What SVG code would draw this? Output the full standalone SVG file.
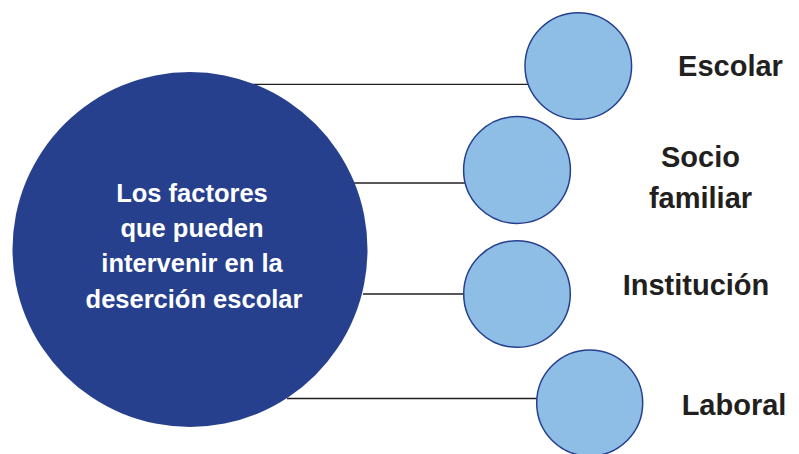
<svg xmlns="http://www.w3.org/2000/svg" width="799" height="454" viewBox="0 0 799 454">
<style>
.small{fill:#8ebde6;stroke:#26408e;stroke-width:1.5}
.lbl{font-family:"Liberation Sans",Arial,sans-serif;font-weight:bold;font-size:29px;fill:#231f20;text-anchor:middle}
.ctr{font-family:"Liberation Sans",Arial,sans-serif;font-weight:bold;font-size:25.5px;fill:#ffffff;text-anchor:middle}
.conn{stroke:#231f20;stroke-width:1.3;fill:none}
</style>
<rect width="799" height="454" fill="#ffffff"/>
<g id="connectors">
<line class="conn" x1="253" y1="84.3" x2="528" y2="84.3"/>
<line class="conn" x1="348" y1="183" x2="465" y2="183"/>
<line class="conn" x1="363" y1="294" x2="465" y2="294"/>
<line class="conn" x1="287" y1="398.5" x2="538" y2="398.5"/>
</g>
<g id="main">
<circle cx="190" cy="249.5" r="177.5" fill="#27408d"/>
<text class="ctr" x="192" y="201.5">Los factores</text>
<text class="ctr" x="192" y="237">que pueden</text>
<text class="ctr" x="192" y="272">intervenir en la</text>
<text class="ctr" x="194" y="307.5">deserción escolar</text>
</g>
<g id="escolar">
<circle class="small" cx="578.3" cy="66" r="53.3"/>
<text class="lbl" x="730.5" y="76">Escolar</text>
</g>
<g id="socio-familiar">
<circle class="small" cx="517" cy="170" r="53.4"/>
<text class="lbl" x="700.5" y="167">Socio</text>
<text class="lbl" x="700.5" y="208">familiar</text>
</g>
<g id="institucion">
<circle class="small" cx="517" cy="294" r="53.3"/>
<text class="lbl" x="696" y="295">Institución</text>
</g>
<g id="laboral">
<circle class="small" cx="589.7" cy="403" r="53"/>
<text class="lbl" x="734" y="415">Laboral</text>
</g>
</svg>
